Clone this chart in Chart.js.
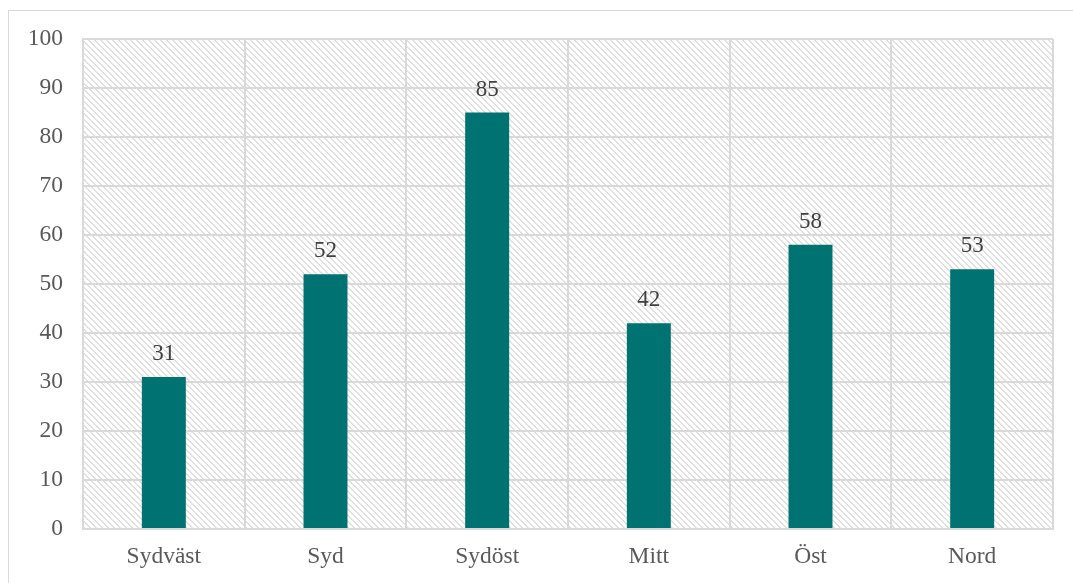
<!DOCTYPE html>
<html>
<head>
<meta charset="utf-8">
<script src="https://cdn.jsdelivr.net/npm/chart.js@4"></script>
<style>
  html, body { margin: 0; padding: 0; background: #fff; overflow: hidden; }
  #frame {
    position: absolute; left: 8px; top: 10px; width: 1100px; height: 600px;
    border: 1px solid #d9d9d9; box-sizing: border-box;
  }
  #wrap { position: absolute; left: 0; top: 0; width: 1073px; height: 583px; }
</style>
</head>
<body>
<div id="frame"></div>
<div id="wrap"><canvas id="chart"></canvas></div>
<script>
// Regions and their values
const regions = ["Sydväst", "Syd", "Sydöst", "Mitt", "Öst", "Nord"];
const values = [31, 52, 85, 42, 58, 53];
const yTicks = [0, 10, 20, 30, 40, 50, 60, 70, 80, 90, 100];

const fontFamily = "'Liberation Serif', 'Times New Roman', serif";

// Diagonal hatch tile for the plot background
function makeHatch() {
    const n = 6;
    const c = document.createElement("canvas");
    c.width = n; c.height = n;
    const g = c.getContext("2d");
    g.fillStyle = "#ffffff";
    g.fillRect(0, 0, n, n);
    g.fillStyle = "#e0e0e0";
    for (let i = 0; i < n; i++) {
        g.fillRect(i, i, 1, 1);
        g.fillRect((i + 1) % n, i, 1, 1);
    }
    return c;
}

const hatchBackground = {
    id: "hatchBackground",
    beforeDraw(chart) {
        const { ctx, chartArea: a } = chart;
        ctx.save();
        ctx.fillStyle = ctx.createPattern(makeHatch(), "repeat");
        ctx.fillRect(a.left, a.top, a.right - a.left, a.bottom - a.top);
        ctx.restore();
    }
};

// Value labels above each bar
const valueLabels = {
    id: "valueLabels",
    afterDatasetsDraw(chart) {
        const { ctx } = chart;
        const meta = chart.getDatasetMeta(0);
        ctx.save();
        ctx.font = "23px " + fontFamily;
        ctx.fillStyle = "#404040";
        ctx.textAlign = "center";
        ctx.textBaseline = "alphabetic";
        meta.data.forEach((bar, i) => {
            ctx.fillText(String(values[i]), bar.x, bar.y - 17);
        });
        ctx.restore();
    }
};

new Chart(document.getElementById("chart"), {
    type: "bar",
    data: {
        labels: regions,
        datasets: [{
            data: values,
            backgroundColor: "#007272",
            categoryPercentage: 1,
            barPercentage: 0.272
        }]
    },
    options: {
        responsive: true,
        maintainAspectRatio: false,
        animation: false,
        layout: { padding: { top: 39, right: 20, bottom: 0, left: 0 } },
        plugins: { legend: { display: false }, tooltip: { enabled: false } },
        scales: {
            x: {
                grid: { color: "#d9d9d9", lineWidth: 2, drawTicks: false },
                border: { color: "#d9d9d9", width: 2 },
                ticks: {
                    color: "#595959",
                    padding: 14,
                    font: { family: fontFamily, size: 23.5 }
                },
                afterFit(axis) { axis.height = 54; }
            },
            y: {
                min: 0,
                max: 100,
                afterBuildTicks(axis) { axis.ticks = yTicks.map(v => ({ value: v })); },
                grid: { color: "#d9d9d9", lineWidth: 2, drawTicks: false },
                border: { color: "#d9d9d9", width: 2 },
                ticks: {
                    color: "#595959",
                    padding: 20,
                    font: { family: fontFamily, size: 23.5 }
                },
                afterFit(axis) { axis.width = 83; }
            }
        }
    },
    plugins: [hatchBackground, valueLabels]
});
</script>
</body>
</html>
